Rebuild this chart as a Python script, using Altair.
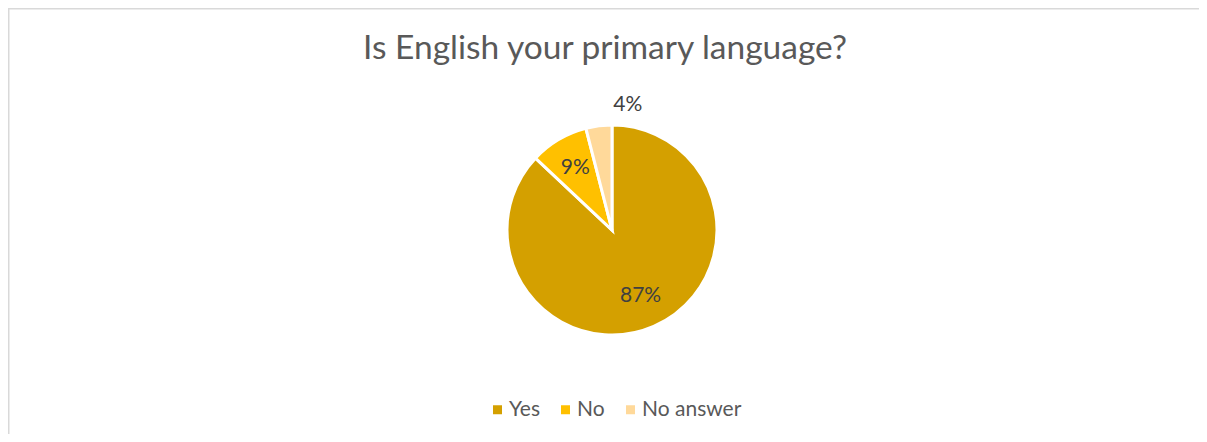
import altair as alt
import pandas as pd

categories = ["Yes", "No", "No answer"]
values = [87, 9, 4]
colors = ["#D4A000", "#FFC000", "#FFD99A"]
title_text = "Is English your primary language?"

df = pd.DataFrame({
    "category": categories,
    "value": values,
    "order": list(range(len(categories))),
})

W, H = 1191, 426
CX, CY = 604, 222
R = 105

one = alt.Data(values=[{}])

pie = alt.Chart(df).mark_arc(outerRadius=R, stroke="white", strokeWidth=3).encode(
    theta=alt.Theta("value:Q", stack=True),
    order=alt.Order("order:Q"),
    color=alt.Color(
        "category:N",
        scale=alt.Scale(domain=categories, range=colors),
        legend=alt.Legend(
            title=None, orient="none", legendX=479, legendY=391,
            direction="horizontal", symbolType="square", symbolSize=81,
            symbolStrokeWidth=0, labelFont="Lato", labelFontSize=21,
            labelColor="#595959", labelOffset=1, columnPadding=15, padding=0,
        ),
    ),
    x=alt.value(CX),
    y=alt.value(CY),
)

labels = alt.Chart(df).transform_calculate(
    lr="datum.category == 'No answer' ? 126 : 72",
    lab="datum.value + '%'",
).mark_text(font="Lato", fontSize=21, color="#404040").encode(
    theta=alt.Theta("value:Q", stack=True),
    order=alt.Order("order:Q"),
    detail="category:N",
    radius=alt.Radius("lr:Q", scale=None),
    text="lab:N",
    x=alt.value(CX),
    y=alt.value(CY),
)

title = alt.Chart(one).mark_text(
    text=title_text, font="Lato", fontSize=33.5, color="#595959", baseline="alphabetic"
).encode(x=alt.value(597), y=alt.value(51))

border_left = alt.Chart(one).mark_rule(color="#D9D9D9", strokeWidth=1.5).encode(
    x=alt.value(0.75), y=alt.value(0), y2=alt.value(H + 20)
)
border_top = alt.Chart(one).mark_rule(color="#D9D9D9", strokeWidth=1.5).encode(
    y=alt.value(0.75), x=alt.value(0), x2=alt.value(W + 20)
)

chart = alt.layer(border_left, border_top, pie, labels, title).properties(
    width=W, height=H,
    autosize=alt.AutoSizeParams(type="none"),
    padding=0,
    background="white",
).configure_view(stroke=None)

chart.save("out.html", embed_options={"renderer": "svg", "actions": False})
